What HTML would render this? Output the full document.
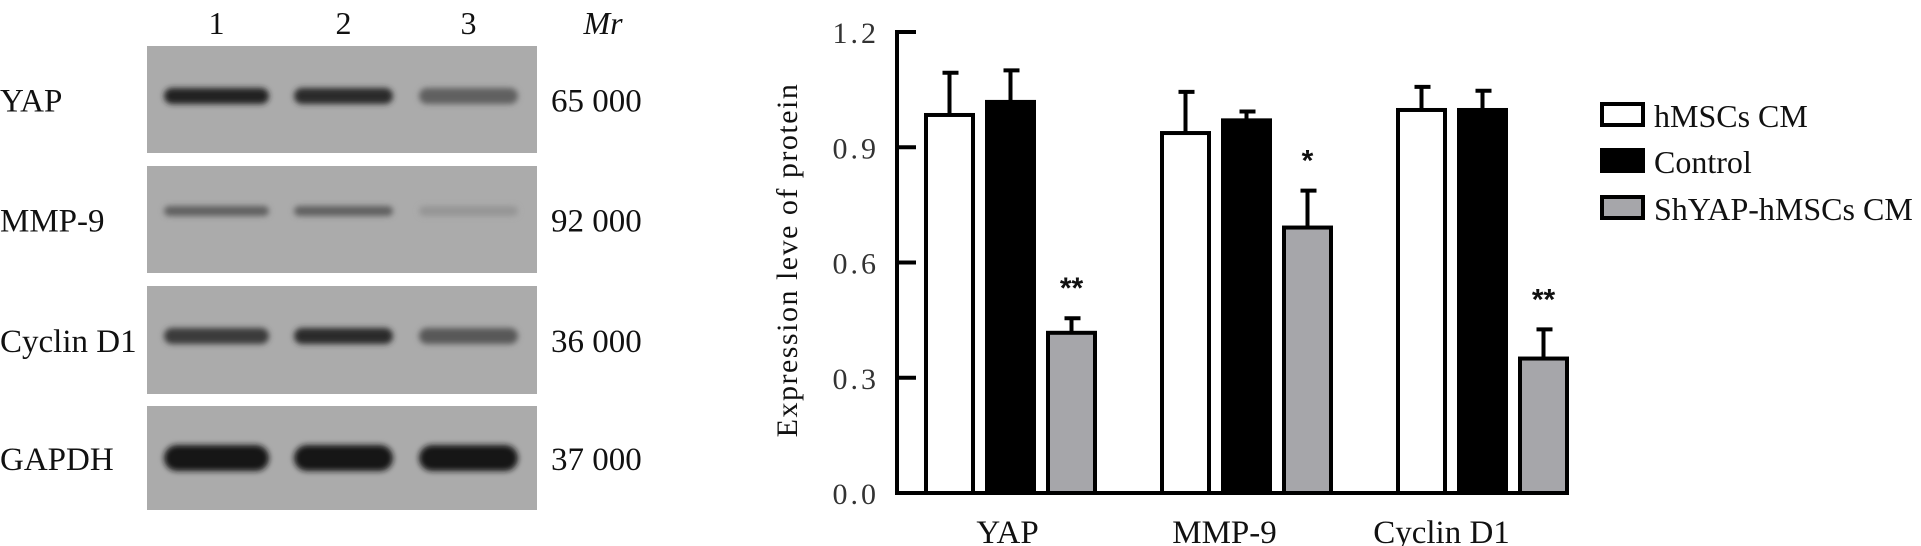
<!DOCTYPE html>
<html><head><meta charset="utf-8"><style>
html,body{margin:0;padding:0;background:#fff;}
svg{display:block;font-family:"Liberation Serif",serif;}
</style></head><body>
<svg id="fig" width="1921" height="546" viewBox="0 0 1921 546">
<defs>
<filter id="bl" x="-20%" y="-100%" width="140%" height="300%"><feGaussianBlur stdDeviation="3"/></filter>
</defs>
<g id="blots"></g>
<g id="chart"></g>
</svg>
<script>
const NS="http://www.w3.org/2000/svg";
function mk(p,tag,at){const e=document.createElementNS(NS,tag);for(const k in at)e.setAttribute(k,at[k]);p.appendChild(e);return e;}
function txt(p,x,y,s,size,anchor,extra){const t=mk(p,'text',Object.assign({x:x,y:y,'font-size':size,'text-anchor':anchor||'start',fill:'#111'},extra||{}));t.textContent=s;return t;}

// ---- Western blot ----
const blotRows=["YAP","MMP-9","Cyclin D1","GAPDH"];
const blotMr=["65 000","92 000","36 000","37 000"];
const bandIntensity=[[0.9,0.85,0.5],[0.5,0.5,0.15],[0.75,0.85,0.55],[1,1,1]];
const laneLabels=["1","2","3"];
const B=document.getElementById('blots');
const rowTop=[46,166,286,406], rowH=[107,107,108,104];
const laneX=[[164,269],[294,393],[419,518]];
laneLabels.forEach((l,i)=>{const t=txt(B,(laneX[i][0]+laneX[i][1])/2,34,l,32,'middle');

});
const mr=txt(B,603,34,'Mr',32,'middle',{'font-style':'italic'});


blotRows.forEach((r,i)=>{
 const g=mk(B,'g',{});
 
 
 mk(g,'rect',{x:147,y:rowTop[i],width:390,height:rowH[i],fill:'#ababab'});
 const cy=rowTop[i]+ (i==3?52:(i==1?45:50));
 const h=i==3?26:(i==1?10:16);
 bandIntensity[i].forEach((v,j)=>{
  const c=Math.round(171-v*150);
  mk(g,'rect',{x:laneX[j][0],y:cy-h/2,width:laneX[j][1]-laneX[j][0],height:h,rx:h/2,fill:`rgb(${c},${c},${c})`,filter:'url(#bl)'});
 });
 const lt=txt(B,0,rowTop[i]+rowH[i]/2+12,r,33,'start');
 
 
 const mt=txt(B,551,rowTop[i]+rowH[i]/2+12,blotMr[i],33,'start');
 
 
});

// ---- Bar chart ----
const categories=["YAP","MMP-9","Cyclin D1"];
const seriesNames=["hMSCs CM","Control","ShYAP-hMSCs CM"];
const hmscsVals=[0.984,0.937,0.997];
const hmscsErr=[0.110,0.107,0.060];
const controlVals=[1.018,0.970,0.997];
const controlErr=[0.082,0.023,0.050];
const shyapVals=[0.417,0.691,0.350];
const shyapErr=[0.038,0.096,0.076];
const sigMarks=["**","*","**"];
const yTicks=[0,0.3,0.6,0.9,1.2];
const yTickLabels=["0.0","0.3","0.6","0.9","1.2"];

const C=document.getElementById('chart');
const x0=897,yBase=493,yTop=32,yMax=1.2;
const Y=v=>yBase-(v/yMax)*(yBase-yTop);
const groupStart=[926,1162,1398], barW=47, barStep=61;
const X=(ci,si)=>groupStart[ci]+si*barStep;
const fills=['#fff','#000','#a6a6aa'];
const vals=[hmscsVals,controlVals,shyapVals], errs=[hmscsErr,controlErr,shyapErr];

const ax=mk(C,'path',{d:`M${x0} ${yTop-2}V${yBase}H1568`,stroke:'#000','stroke-width':4,fill:'none'});


yTicks.forEach((t,i)=>{
 mk(C,'line',{x1:x0,x2:x0+19,y1:Y(t),y2:Y(t),stroke:'#000','stroke-width':4});
 const tl=txt(C,879,Y(t)+11,yTickLabels[i],30,'end',{'letter-spacing':'3','fill':'#333'});
 
 
});
const yt=txt(C,0,0,'Expression leve of protein',30,'middle',{transform:'translate(797,260) rotate(-90)','letter-spacing':'1.5'});



categories.forEach((c,ci)=>{
 for(let si=0;si<3;si++){
  const v=vals[si][ci], e=errs[si][ci], bx=X(ci,si);
  const cx=bx+barW/2;
  const el=mk(C,'path',{d:`M${cx} ${Y(v)}V${Y(v+e)}M${cx-7} ${Y(v+e)}H${cx+9}`,stroke:'#000','stroke-width':4,fill:'none'});
  
  
  const r=mk(C,'rect',{x:bx,y:Y(v),width:barW,height:yBase-Y(v),fill:fills[si],stroke:'#000','stroke-width':4});
  
  
 }
 const sx=X(ci,2)+barW/2;
 const s=txt(C,sx,Y(shyapVals[ci]+shyapErr[ci])-20,sigMarks[ci],30,'middle',{'font-family':'Liberation Sans, sans-serif','font-weight':'bold'});
 
 
 const cl=txt(C,X(ci,1)+barW/2-3-19*ci,543,c,33,'middle');
 
 
});

const legY=[103,149,196];
seriesNames.forEach((n,i)=>{
 const g=mk(C,'g',{});
 
 
 mk(g,'rect',{x:1602,y:legY[i]+1,width:41,height:21,fill:fills[i],stroke:'#000','stroke-width':4});
 txt(g,1654,legY[i]+24,n,32,'start');
});
</script>
</body></html>
